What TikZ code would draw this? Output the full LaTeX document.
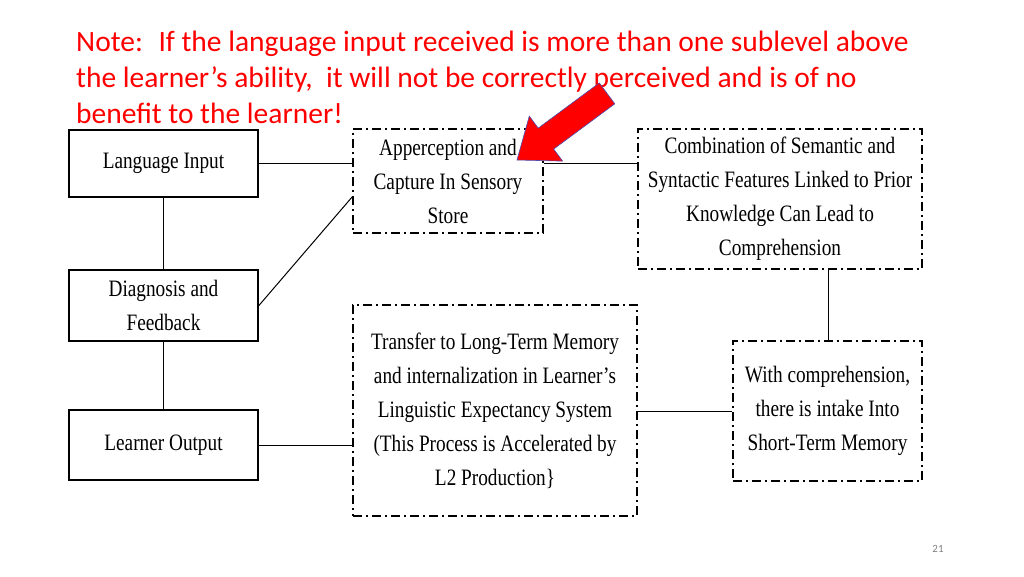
\documentclass[tikz,border=0pt]{standalone}
\usepackage{fontspec}
\setmainfont{Liberation Serif}[FakeStretch=0.82]
\newfontfamily\notefont{Carlito}
\begin{document}
\begin{tikzpicture}[x=1pt,y=-1pt,
  solidbox/.style={draw,line width=1.8pt,minimum width=189pt,align=center,font=\fontsize{23.5}{34}\selectfont,inner sep=0pt},
  dbox/.style={draw,line width=1.8pt,dash pattern=on 9pt off 4pt on 2pt off 4pt,align=center,font=\fontsize{23.5}{34}\selectfont,inner sep=0pt},
  conn/.style={line width=1pt}]
\useasboundingbox (0,0) rectangle (1024,576);
\node[anchor=north west,align=left,text=red,font=\notefont\fontsize{29.5}{36}\selectfont,inner sep=0pt] (note) at (76,31)
 {Note:~ If the language input received is more than one sublevel above\\the learner’s ability,~ it will not be correctly perceived and is of no\\benefit to the learner!};
\node[solidbox,minimum height=67pt] (li) at (163.5,163.5) {Language Input};
\node[solidbox,minimum height=71pt] (df) at (163.5,305.5) {Diagnosis and\\Feedback};
\node[solidbox,minimum height=70pt] (lo) at (163.5,445) {Learner Output};
\node[dbox,minimum width=190pt,minimum height=104pt] (ap) at (448,181) {Apperception and\\Capture In Sensory\\Store};
\node[dbox,minimum width=284pt,minimum height=140pt] (co) at (780,199) {Combination of Semantic and\\Syntactic Features Linked to Prior\\Knowledge Can Lead to\\Comprehension};
\node[dbox,minimum width=284pt,minimum height=211pt] (tr) at (495,410.5) {Transfer to Long-Term Memory\\and internalization in Learner's\\Linguistic Expectancy System\\(This Process is Accelerated by\\L2 Production\}};
\node[dbox,minimum width=189pt,minimum height=140pt] (wc) at (827.5,411) {With comprehension,\\there is intake Into\\Short-Term Memory};
\draw[conn] (li.east) -- (li.east -| ap.west);
\draw[conn] (df.east) -- (ap.west |- 0,197);
\draw[conn] (lo.east) -- (lo.east -| tr.west);
\draw[conn] (ap.east |- 0,163) -- (co.west |- 0,163);
\draw[conn] (co.south -| 828,0) -- (wc.north -| 828,0);
\draw[conn] (wc.west) -- (wc.west -| tr.east);
\draw[conn] (li.south) -- (df.north);
\draw[conn] (df.south) -- (lo.north);
\begin{scope}[shift={(517,160)},rotate=36.5]
\fill[red,draw=blue!40!gray,line width=0.6pt] (0,0) -- (36,-28) -- (36,-13) -- (112,-13) -- (112,13) -- (36,13) -- (36,28) -- cycle;
\end{scope}
\node[font=\notefont\fontsize{11}{13}\selectfont,text=gray] (pg) at (938,549) {21};
\end{tikzpicture}
\end{document}
